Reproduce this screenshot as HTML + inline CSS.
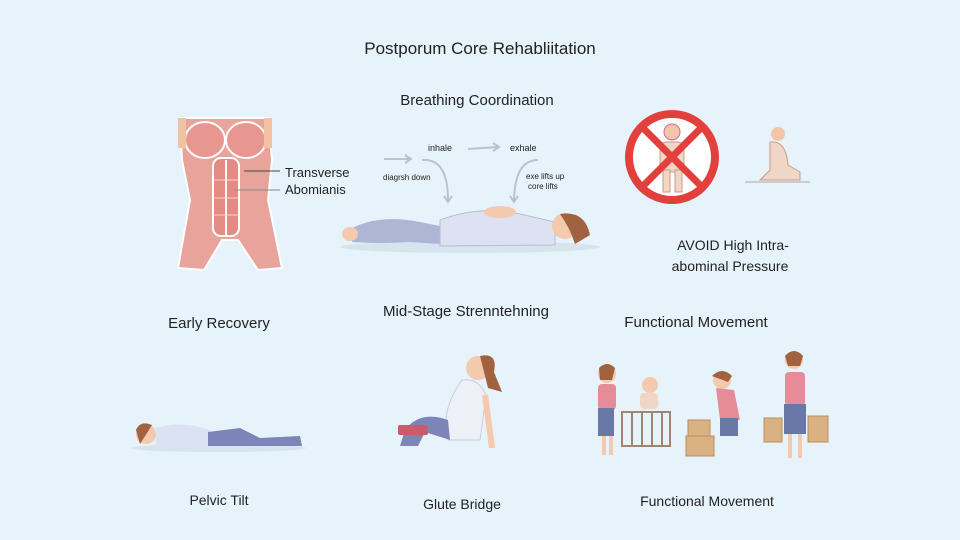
<!DOCTYPE html>
<html><head><meta charset="utf-8"><style>
html,body{margin:0;padding:0;width:960px;height:540px;overflow:hidden;background:#e6f3fb}
svg{display:block}
text{font-family:"Liberation Sans",sans-serif;fill:#222}
</style></head><body>
<svg width="960" height="540" viewBox="0 0 960 540">
<rect width="960" height="540" fill="#e6f3fb"/>
<text x="480" y="54" font-size="17" text-anchor="middle" fill="#111">Postporum Core Rehabliitation</text>
<text x="477" y="105" font-size="15" text-anchor="middle">Breathing Coordination</text>

<!-- torso -->
<g>
<path d="M180 118 L268 118 L272 160 L268 200 L282 268 L258 270 L238 240 L222 240 L204 270 L178 268 L190 200 L182 160 Z" fill="#e8a39b" stroke="#fff" stroke-width="2"/>
<ellipse cx="205" cy="140" rx="20" ry="18" fill="#e7978f" stroke="#fff" stroke-width="2"/>
<ellipse cx="246" cy="140" rx="20" ry="18" fill="#e7978f" stroke="#fff" stroke-width="2"/>
<rect x="213" y="158" width="26" height="78" rx="8" fill="#e28c84" stroke="#fff" stroke-width="2"/>
<line x1="226" y1="160" x2="226" y2="236" stroke="#fff" stroke-width="2"/>
<line x1="213" y1="180" x2="239" y2="180" stroke="#f5d5d0"/>
<line x1="213" y1="198" x2="239" y2="198" stroke="#f5d5d0"/>
<line x1="213" y1="215" x2="239" y2="215" stroke="#f5d5d0"/>
<rect x="178" y="118" width="8" height="30" fill="#f2c2a0"/>
<rect x="264" y="118" width="8" height="30" fill="#f2c2a0"/>
<line x1="244" y1="171" x2="280" y2="171" stroke="#444"/>
<line x1="234" y1="190" x2="280" y2="190" stroke="#888"/>
</g>
<text x="285" y="177" font-size="13">Transverse</text>
<text x="285" y="194" font-size="13">Abomianis</text>

<!-- breathing arrows -->
<g stroke="#b8c4cc" stroke-width="2" fill="none">
<path d="M384 159 L410 159"/><path d="M405 155 L411 159 L405 163"/>
<path d="M468 149 L498 147"/><path d="M493 143 L499 147 L493 151"/>
<path d="M422 160 Q448 158 448 200"/><path d="M444 196 L448 202 L452 196"/>
<path d="M538 160 Q515 160 514 200"/><path d="M510 196 L514 202 L518 196"/>
</g>
<text x="428" y="151" font-size="9" fill="#555">inhale</text>
<text x="510" y="151" font-size="9" fill="#555">exhale</text>
<text x="383" y="180" font-size="8" fill="#555">diagrsh down</text>
<text x="526" y="179" font-size="8" fill="#555">exe lifts up</text>
<text x="528" y="189" font-size="8" fill="#555">core lifts</text>

<!-- lying woman -->
<g>
<ellipse cx="470" cy="247" rx="130" ry="6" fill="#d6e4ee"/>
<path d="M352 228 Q380 214 420 222 L440 226 L440 244 L410 242 Q380 244 352 242 Z" fill="#aeb6d6"/>
<path d="M440 220 Q480 205 520 214 L555 222 L555 245 L440 246 Z" fill="#dde2f2" stroke="#bbc" />
<circle cx="565" cy="226" r="13" fill="#f4c9ad"/>
<path d="M560 214 Q585 210 590 235 L575 244 Q570 228 560 214" fill="#a0623f"/>
<ellipse cx="350" cy="234" rx="8" ry="7" fill="#f4c9ad"/>
<ellipse cx="500" cy="212" rx="16" ry="6" fill="#f4c9ad"/>
</g>

<!-- avoid sign -->
<g>
<circle cx="672" cy="157" r="43" fill="#fff" stroke="#e2403d" stroke-width="8"/>
<circle cx="672" cy="132" r="8" fill="#f2c6a8" stroke="#c69" stroke-width="1"/>
<rect x="660" y="142" width="24" height="30" rx="6" fill="#f0d6c6" stroke="#c98" />
<rect x="663" y="170" width="7" height="22" fill="#f0d6c6" stroke="#c98"/>
<rect x="675" y="170" width="7" height="22" fill="#f0d6c6" stroke="#c98"/>
<line x1="642" y1="127" x2="702" y2="187" stroke="#e2403d" stroke-width="7"/>
<line x1="702" y1="127" x2="642" y2="187" stroke="#e2403d" stroke-width="7"/>
</g>
<g>
<circle cx="778" cy="134" r="7" fill="#f2c6a8"/>
<path d="M770 142 Q786 140 788 165 L800 172 L800 180 L760 180 L770 170 Z" fill="#f0d6c6" stroke="#c98"/>
<line x1="745" y1="182" x2="810" y2="182" stroke="#ccc" stroke-width="2"/>
</g>
<text x="733" y="250" font-size="14" text-anchor="middle">AVOID High Intra-</text>
<text x="730" y="271" font-size="14" text-anchor="middle">abominal Pressure</text>

<text x="219" y="328" font-size="15" text-anchor="middle">Early Recovery</text>
<text x="466" y="316" font-size="15" text-anchor="middle">Mid-Stage Strenntehning</text>
<text x="696" y="327" font-size="15" text-anchor="middle">Functional Movement</text>

<!-- pelvic tilt -->
<g>
<ellipse cx="218" cy="448" rx="88" ry="4" fill="#d6e4ee"/>
<circle cx="146" cy="434" r="10" fill="#f4c9ad"/>
<path d="M136 430 Q140 420 152 425 L140 444 Z" fill="#a0623f"/>
<path d="M156 428 Q180 420 210 430 L210 446 L156 446 Z" fill="#dde2f2"/>
<path d="M208 432 L240 428 L260 438 L300 436 L302 446 L208 446 Z" fill="#7c84b8"/>
</g>
<text x="219" y="505" font-size="14" text-anchor="middle">Pelvic Tilt</text>

<!-- glute bridge -->
<g>
<circle cx="478" cy="368" r="12" fill="#f4c9ad"/>
<path d="M480 356 Q498 352 494 372 L502 392 L488 388 Z" fill="#a0623f"/>
<path d="M462 380 Q480 378 486 396 L480 440 L448 440 Q440 410 462 380 Z" fill="#eef0f8" stroke="#ccd"/>
<path d="M448 420 Q420 410 405 430 L400 446 L418 446 L425 432 L450 440 Z" fill="#7c84b8"/>
<rect x="398" y="425" width="30" height="10" fill="#c85c6a" rx="2"/>
<line x1="485" y1="395" x2="492" y2="448" stroke="#f4c9ad" stroke-width="6"/>
</g>
<text x="462" y="509" font-size="14" text-anchor="middle">Glute Bridge</text>

<!-- functional figures -->
<g>
<circle cx="607" cy="374" r="9" fill="#f4c9ad"/>
<path d="M599 368 Q607 360 615 368 L612 380 L600 380 Z" fill="#a0623f"/>
<rect x="598" y="384" width="18" height="26" rx="4" fill="#e58c98"/>
<rect x="598" y="408" width="16" height="28" fill="#6a78a8"/>
<line x1="604" y1="436" x2="604" y2="455" stroke="#f4c9ad" stroke-width="4"/>
<line x1="611" y1="436" x2="611" y2="455" stroke="#f4c9ad" stroke-width="4"/>
<circle cx="650" cy="385" r="8" fill="#f4c9ad"/>
<rect x="640" y="393" width="18" height="16" rx="4" fill="#f0d6c6"/>
<g stroke="#a08570" stroke-width="2" fill="none">
<rect x="622" y="412" width="48" height="34"/>
<line x1="632" y1="412" x2="632" y2="446"/><line x1="642" y1="412" x2="642" y2="446"/><line x1="652" y1="412" x2="652" y2="446"/><line x1="662" y1="412" x2="662" y2="446"/>
</g>
<circle cx="722" cy="380" r="9" fill="#f4c9ad"/>
<path d="M712 376 Q722 366 732 376 L728 382 Z" fill="#a0623f"/>
<path d="M716 388 L734 390 L740 420 L720 420 Z" fill="#e58c98"/>
<rect x="720" y="418" width="18" height="18" fill="#6a78a8"/>
<rect x="688" y="420" width="22" height="16" fill="#d9b183" stroke="#b8905e"/>
<rect x="686" y="436" width="28" height="20" fill="#d9b183" stroke="#b8905e"/>
<circle cx="794" cy="360" r="9" fill="#f4c9ad"/>
<path d="M785 356 Q794 346 803 356 L800 366 L788 366 Z" fill="#a0623f"/>
<rect x="785" y="372" width="20" height="34" rx="4" fill="#e58c98"/>
<rect x="784" y="404" width="22" height="30" fill="#6a78a8"/>
<line x1="790" y1="434" x2="790" y2="458" stroke="#f4c9ad" stroke-width="4"/>
<line x1="800" y1="434" x2="800" y2="458" stroke="#f4c9ad" stroke-width="4"/>
<rect x="764" y="418" width="18" height="24" fill="#d9b183" stroke="#b8905e"/>
<rect x="808" y="416" width="20" height="26" fill="#d9b183" stroke="#b8905e"/>
</g>
<text x="707" y="506" font-size="14" text-anchor="middle">Functional Movement</text>
</svg>
</body></html>
